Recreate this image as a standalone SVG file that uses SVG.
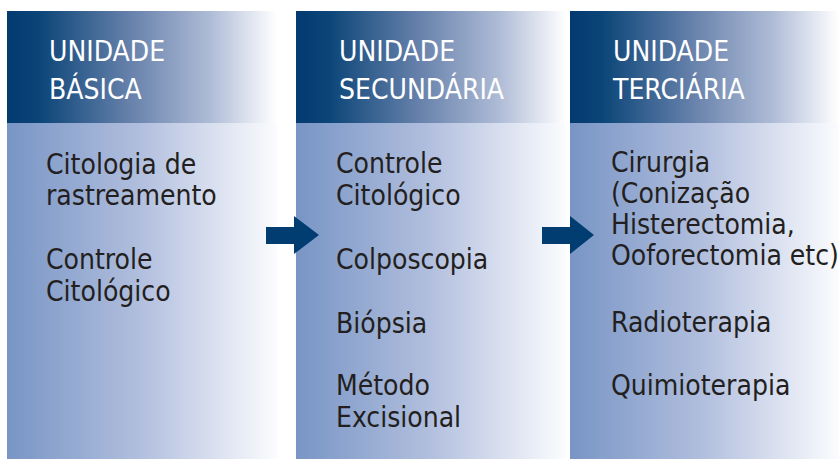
<svg xmlns="http://www.w3.org/2000/svg" width="839" height="459" viewBox="0 0 839 459">
  <defs>
    <linearGradient id="gHead" x1="0" y1="0" x2="1" y2="0">
      <stop offset="0" stop-color="#033a70"/>
      <stop offset="0.12" stop-color="#0b4578"/>
      <stop offset="0.45" stop-color="#6580aa"/>
      <stop offset="0.75" stop-color="#aebbd6"/>
      <stop offset="1" stop-color="#ffffff"/>
    </linearGradient>
    <linearGradient id="gBody" x1="0" y1="0" x2="1" y2="0">
      <stop offset="0" stop-color="#7895c5"/>
      <stop offset="0.5" stop-color="#b2bfde"/>
      <stop offset="1" stop-color="#fbfcfe"/>
    </linearGradient>
  </defs>
  <style>
    .head { fill: url(#gHead); }
    .body { fill: url(#gBody); }
    .ht { font-family: "DejaVu Sans Condensed", "DejaVu Sans", sans-serif; font-size: 28px; fill: #ffffff; }
    .bt { font-family: "DejaVu Sans Condensed", "DejaVu Sans", sans-serif; font-size: 28px; fill: #231f20; }
    .arrow { fill: #013d71; }
  </style>
  <rect width="839" height="459" fill="#ffffff"/>

  <g id="basica">
    <rect class="head" x="7" y="11" width="270" height="112"/>
    <rect class="body" x="7" y="123" width="270" height="336"/>
    <text class="ht" x="49" y="61">UNIDADE</text>
    <text class="ht" x="49" y="99">BÁSICA</text>
    <text class="bt" x="46" y="174">Citologia de</text>
    <text class="bt" x="46" y="205">rastreamento</text>
    <text class="bt" x="46" y="269">Controle</text>
    <text class="bt" x="46" y="301">Citológico</text>
  </g>

  <g id="secundaria">
    <rect class="head" x="296" y="11" width="270" height="112"/>
    <rect class="body" x="296" y="123" width="270" height="336"/>
    <text class="ht" x="339" y="61">UNIDADE</text>
    <text class="ht" x="339" y="99">SECUNDÁRIA</text>
    <text class="bt" x="336" y="173">Controle</text>
    <text class="bt" x="336" y="205">Citológico</text>
    <text class="bt" x="336" y="269">Colposcopia</text>
    <text class="bt" x="336" y="333">Biópsia</text>
    <text class="bt" x="336" y="395">Método</text>
    <text class="bt" x="336" y="427">Excisional</text>
  </g>

  <g id="terciaria">
    <rect class="head" x="570" y="11" width="269" height="112"/>
    <rect class="body" x="570" y="123" width="269" height="336"/>
    <text class="ht" x="613" y="61">UNIDADE</text>
    <text class="ht" x="613" y="99">TERCIÁRIA</text>
    <text class="bt" x="611" y="172">Cirurgia</text>
    <text class="bt" x="611" y="203">(Conização</text>
    <text class="bt" x="611" y="234">Histerectomia,</text>
    <text class="bt" x="611" y="265">Ooforectomia etc)</text>
    <text class="bt" x="611" y="332">Radioterapia</text>
    <text class="bt" x="611" y="395">Quimioterapia</text>
  </g>

  <g id="connectors">
    <polygon class="arrow" points="266,227 294,227 294,216 319,235 294,254 294,244 266,244"/>
    <polygon class="arrow" points="542,227 570,227 570,216 594,235 570,254 570,244 542,244"/>
  </g>
</svg>
